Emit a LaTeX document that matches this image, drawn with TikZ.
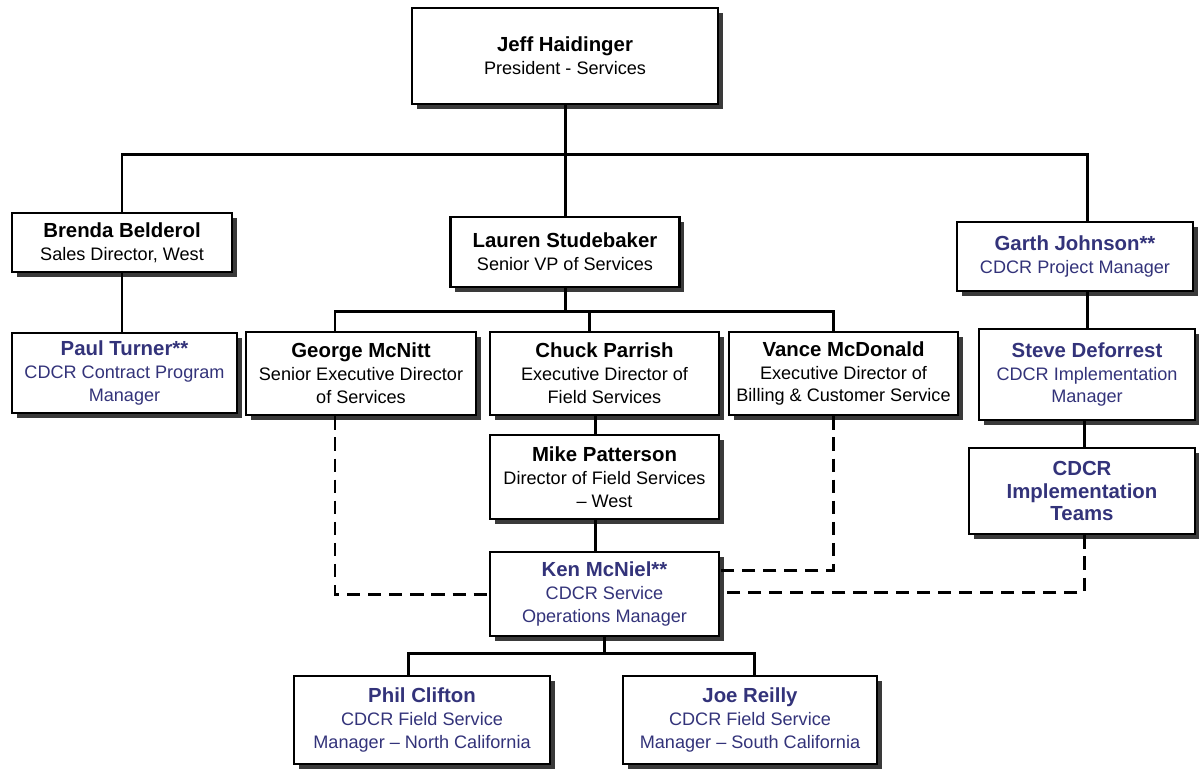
\documentclass[tikz,border=0pt]{standalone}
\usepackage{fontspec}
\setmainfont{Liberation Sans}
\usepackage{tikz}
\usetikzlibrary{calc,shadows}
\definecolor{cmarino}{HTML}{33337A}
\definecolor{csombra}{HTML}{3A3A3A}
\newcommand{\nom}[1]{{\fontsize{11.6}{13}\selectfont\bfseries #1}}
\tikzset{
  caja/.style={rectangle, draw=black, line width=1.6pt, fill=white,
    align=center, inner sep=2pt, font=\fontsize{10.3}{13}\selectfont,
    drop shadow={shadow xshift=2.8pt, shadow yshift=-2.8pt, fill=csombra, opacity=1}},
  cajaz/.style={caja, text=cmarino},
  linea/.style={line width=1.7pt, draw=black},
  lineap/.style={linea, dash pattern=on 7.5pt off 4.5pt},
}
\begin{document}
\begin{tikzpicture}[x=0.02cm, y=-0.02cm]
  \useasboundingbox (0,0) rectangle (1199,768);
  \node[caja, minimum width=6.12cm, minimum height=1.92cm] (a) at (565,56)
    {\nom{Jeff Haidinger}\\President - Services};
  \node[caja, minimum width=4.4cm, minimum height=1.18cm] (b) at (122,242.5)
    {\nom{Brenda Belderol}\\Sales Director, West};
  \node[cajaz, minimum width=4.5cm, minimum height=1.6cm] (p) at (124.5,373)
    {\nom{Paul Turner**}\\CDCR Contract Program\\Manager};
  \node[caja, minimum width=4.58cm, minimum height=1.4cm] (l) at (565,252)
    {\nom{Lauren Studebaker}\\Senior VP of Services};
  \node[cajaz, minimum width=4.72cm, minimum height=1.38cm] (g) at (1075,256.5)
    {\nom{Garth Johnson**}\\CDCR Project Manager};
  \node[caja, minimum width=4.6cm, minimum height=1.66cm] (ge) at (361,373.5)
    {\nom{George McNitt}\\Senior Executive Director\\of Services};
  \node[caja, minimum width=4.58cm, minimum height=1.66cm] (ch) at (604.5,373.5)
    {\nom{Chuck Parrish}\\Executive Director of\\Field Services};
  \node[caja, minimum width=4.58cm, minimum height=1.66cm] (va) at (843.5,373.5)
    {\nom{Vance McDonald}\\Executive Director of\\Billing \& Customer Service};
  \node[cajaz, minimum width=4.32cm, minimum height=1.82cm] (st) at (1087,374.5)
    {\nom{Steve Deforrest}\\CDCR Implementation\\Manager};
  \node[cajaz, minimum width=4.52cm, minimum height=1.72cm] (te) at (1082,491)
    {\nom{CDCR}\\\nom{Implementation}\\\nom{Teams}};
  \node[caja, minimum width=4.58cm, minimum height=1.68cm] (mi) at (604.5,477)
    {\nom{Mike Patterson}\\Director of Field Services\\-- West};
  \node[cajaz, minimum width=4.58cm, minimum height=1.68cm] (ke) at (604.5,594)
    {\nom{Ken McNiel**}\\CDCR Service\\Operations Manager};
  \node[cajaz, minimum width=5.12cm, minimum height=1.76cm] (ph) at (422,720)
    {\nom{Phil Clifton}\\CDCR Field Service\\Manager -- North California};
  \node[cajaz, minimum width=5.08cm, minimum height=1.76cm] (jo) at (750,720)
    {\nom{Joe Reilly}\\CDCR Field Service\\Manager -- South California};
  \draw[linea] (a.south) -- ++(0,49) coordinate (t1);
  \draw[linea] (b.north) |- (t1) -| (st.north |- g.north);
  \draw[linea] (t1) -- (l.north);
  \draw[linea] (b.south) -- (b.south |- p.north);
  \draw[linea] (st.north |- g.south) -- (st.north);
  \draw[linea] ($(te.north)+(2,0)$) -- ($(st.south)+(-3,0)$);
  \draw[linea] (l.south) -- ++(0,23) coordinate (t2);
  \draw[linea] ($(ge.north)+(-26,0)$) |- (t2) -| ($(va.north)+(-10,0)$);
  \draw[linea] (t2) -| ($(ch.north)+(-15,0)$);
  \draw[linea] ($(ch.south)+(-9,0)$) -- ($(mi.north)+(-9,0)$);
  \draw[linea] ($(mi.south)+(-9,0)$) -- ($(ke.north)+(-9,0)$);
  \draw[linea] (ke.south) -- ++(0,16) coordinate (t3);
  \draw[linea] ($(ph.north)+(-14,0)$) |- (t3) -| ($(jo.north)+(4,0)$);
  \draw[lineap] ($(ge.south)+(-26,0)$) |- (ke.west);
  \draw[lineap] ($(va.south)+(-10,0)$) |- ($(ke.east)+(0,-24)$);
  \draw[lineap] ($(te.south)+(2,0)$) |- ($(ke.east)+(0,-2)$);
\end{tikzpicture}
\end{document}
